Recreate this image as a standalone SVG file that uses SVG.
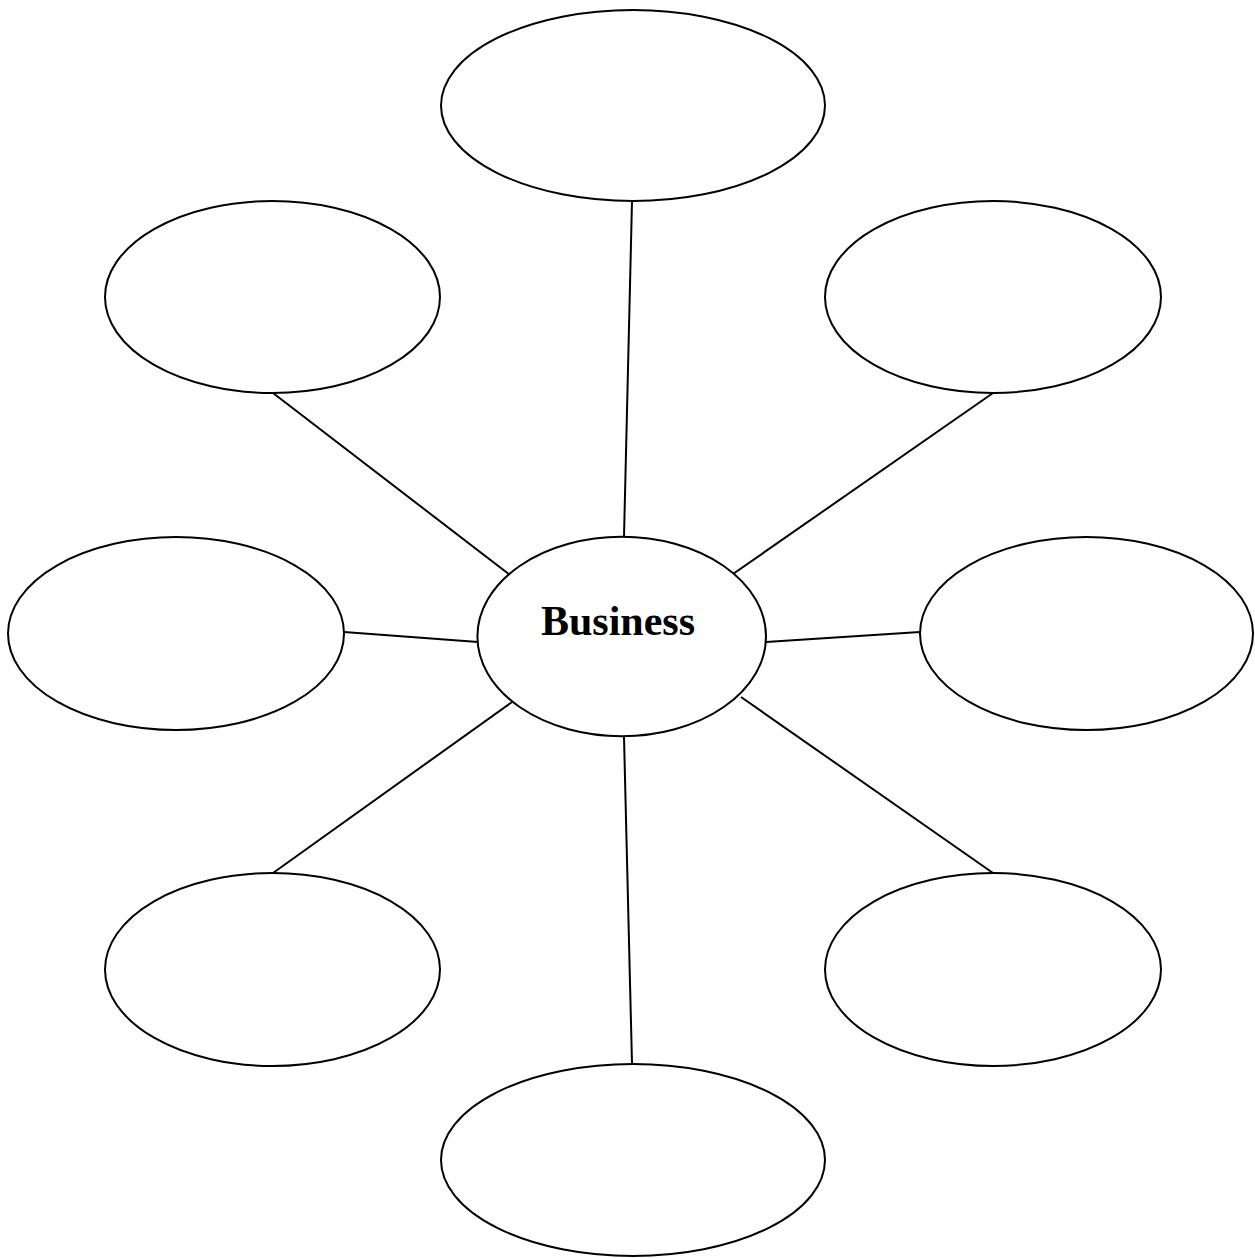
<svg xmlns="http://www.w3.org/2000/svg" width="1255" height="1258" viewBox="0 0 1255 1258">
<style>
ellipse{fill:#fff;stroke:#000;stroke-width:2}
line{stroke:#000;stroke-width:2}
text{font-family:"Liberation Serif","Times New Roman",serif;font-weight:bold;font-size:42px;fill:#000}
</style>
<rect width="1255" height="1258" fill="#fff"/>
<g id="connectors">
<line x1="632" y1="201" x2="624" y2="537"/>
<line x1="273" y1="393" x2="510" y2="575"/>
<line x1="993" y1="393" x2="733" y2="574"/>
<line x1="344" y1="632" x2="478" y2="642"/>
<line x1="766" y1="642" x2="920" y2="632"/>
<line x1="273" y1="873" x2="512" y2="702"/>
<line x1="993" y1="873" x2="741" y2="697"/>
<line x1="624" y1="737" x2="632" y2="1064"/>
</g>
<g id="node-top"><ellipse cx="633" cy="105.5" rx="192" ry="95.5"/></g>
<g id="node-upper-left"><ellipse cx="272.5" cy="297" rx="167.5" ry="96"/></g>
<g id="node-upper-right"><ellipse cx="993" cy="297" rx="168" ry="96"/></g>
<g id="node-left"><ellipse cx="176" cy="633.5" rx="168" ry="96.5"/></g>
<g id="node-right"><ellipse cx="1086.5" cy="633.5" rx="166.5" ry="96.5"/></g>
<g id="node-lower-left"><ellipse cx="272.5" cy="969.5" rx="167.5" ry="96.5"/></g>
<g id="node-lower-right"><ellipse cx="993" cy="969.5" rx="168" ry="96.5"/></g>
<g id="node-bottom"><ellipse cx="633" cy="1160" rx="192" ry="96"/></g>
<g id="node-center"><ellipse cx="621.7" cy="636.5" rx="144.3" ry="99.7"/><text x="618" y="635.3" text-anchor="middle">Business</text></g>
</svg>
